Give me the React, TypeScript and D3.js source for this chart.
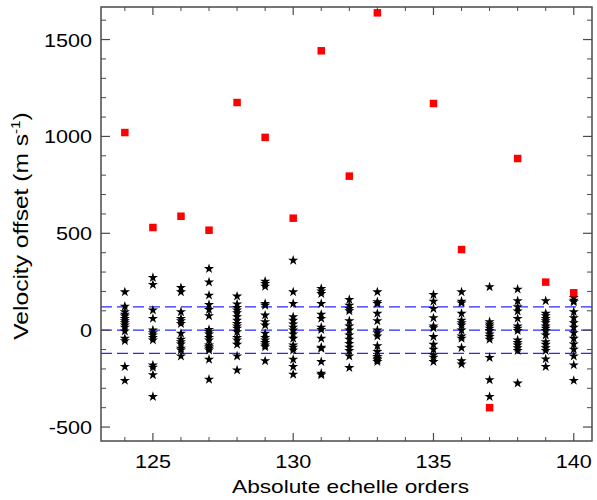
import React from "react";
import * as d3 from "d3";

const orders = [124, 125, 126, 127, 128, 129, 130, 131, 132, 133, 135, 136, 137, 138, 139, 140];

const starValues: number[][] = [
  [197, 123, 94, 82, 72, 60, 48, 38, 26, 14, -5, -43, -55, -188, -260],
  [271, 235, 103, 60, 0, -14, -26, -38, -51, -180, -192, -231, -343],
  [219, 197, 94, 60, 48, 34, -17, -48, -60, -72, -94, -103, -134],
  [317, 248, 180, 132, 106, 74, 3, -9, -21, -38, -51, -77, -86, -94, -103, -151, -254],
  [175, 134, 116, 103, 89, 69, 51, 34, 21, 9, -9, -38, -51, -74, -134, -206],
  [252, 240, 226, 137, 128, 77, 43, 26, -17, -38, -51, -65, -77, -86, -159],
  [360, 197, 137, 69, 51, 31, 14, 0, -21, -43, -77, -89, -103, -151, -188, -228],
  [214, 202, 188, 137, 81, 60, 14, 3, -43, -89, -94, -163, -223, -231],
  [158, 128, 111, 99, 48, 21, 0, -26, -48, -69, -89, -106, -134, -194],
  [197, 146, 137, 86, 48, 0, -14, -31, -81, -111, -137, -146, -154, -163],
  [183, 149, 111, 63, 21, 12, -34, -74, -99, -128, -140, -163],
  [197, 149, 140, 86, 51, 38, 26, 0, -31, -43, -91, -159, -175],
  [223, 43, 31, 21, 9, -3, -21, -34, -48, -142, -257, -343],
  [211, 151, 120, 98, 60, 21, 9, -3, -51, -65, -77, -91, -106, -274],
  [151, 86, 74, 60, 48, 38, 21, 9, -3, -26, -60, -74, -91, -106, -149, -188],
  [168, 154, 146, 94, 63, 38, 14, -14, -43, -72, -99, -134, -180, -260],
];

const squareValues = [1020, 530, 588, 516, 1175, 995, 578, 1442, 795, 1638, 1170, 416, -400, 886, 248, 193];

const refLines = [120, 0, -120];

const xMajorTicks = [125, 130, 135, 140];
const yMajorTicks = [-500, 0, 500, 1000, 1500];

const X_DOMAIN: [number, number] = [123.15, 140.65];
const Y_DOMAIN: [number, number] = [-572, 1668];

export default function App() {
  const W = 597, H = 500;
  const L = 101, R = 592, T = 7, B = 441;
  const x = d3.scaleLinear().domain(X_DOMAIN).range([L, R]);
  const y = d3.scaleLinear().domain(Y_DOMAIN).range([B, T]);

  const xMinor = d3.range(124, 141, 1).filter((v) => !xMajorTicks.includes(v));
  const yMinor = d3.range(-500, 1601, 100).filter((v) => !yMajorTicks.includes(v));

  const star = d3.symbol().type(d3.symbolStar).size(32)()!;
  const axisColor = "#4a4a4a";
  const font = "Liberation Sans, Arial, Helvetica, sans-serif";
  const sx = 1.2;

  const stars: { o: number; v: number }[] = [];
  orders.forEach((o, i) => starValues[i].forEach((v) => stars.push({ o, v })));

  return (
    <svg width={W} height={H} style={{ position: "absolute", left: 0, top: 0 }}>
      <rect x={0} y={0} width={W} height={H} fill="#fff" />
      {refLines.map((v) => (
        <line key={v} x1={L} x2={R} y1={y(v)} y2={y(v)} stroke="#2a2aff" strokeWidth={1.3} strokeDasharray="11,5" />
      ))}
      {stars.map((s, i) => (
        <path key={i} d={star} transform={`translate(${x(s.o)},${y(s.v)})`} fill="#000" />
      ))}
      {orders.map((o, i) => (
        <rect key={o} x={x(o) - 3.75} y={y(squareValues[i]) - 3.75} width={7.5} height={7.5} fill="#ff0000" />
      ))}
      <rect x={L} y={T} width={R - L} height={B - T} fill="none" stroke={axisColor} strokeWidth={1.5} />
      {xMajorTicks.map((v) => (
        <g key={"xm" + v}>
          <line x1={x(v)} x2={x(v)} y1={B} y2={B - 8} stroke={axisColor} strokeWidth={1.2} />
          <line x1={x(v)} x2={x(v)} y1={T} y2={T + 8} stroke={axisColor} strokeWidth={1.2} />
          <text transform={`translate(${x(v)},467.5) scale(${sx},1)`} textAnchor="middle" fontFamily={font} fontSize={18} fill="#000">{v}</text>
        </g>
      ))}
      {xMinor.map((v) => (
        <g key={"xn" + v}>
          <line x1={x(v)} x2={x(v)} y1={B} y2={B - 4} stroke={axisColor} strokeWidth={1} />
          <line x1={x(v)} x2={x(v)} y1={T} y2={T + 4} stroke={axisColor} strokeWidth={1} />
        </g>
      ))}
      {yMajorTicks.map((v) => (
        <g key={"ym" + v}>
          <line x1={L} x2={L + 9} y1={y(v)} y2={y(v)} stroke={axisColor} strokeWidth={1.2} />
          <line x1={R} x2={R - 9} y1={y(v)} y2={y(v)} stroke={axisColor} strokeWidth={1.2} />
          <text transform={`translate(92,${y(v) + 7}) scale(${sx},1)`} textAnchor="end" fontFamily={font} fontSize={18} fill="#000">{v}</text>
        </g>
      ))}
      {yMinor.map((v) => (
        <g key={"yn" + v}>
          <line x1={L} x2={L + 5} y1={y(v)} y2={y(v)} stroke={axisColor} strokeWidth={1} />
          <line x1={R} x2={R - 5} y1={y(v)} y2={y(v)} stroke={axisColor} strokeWidth={1} />
        </g>
      ))}
      <text transform={`translate(${(L + R) / 2 + 4},492.5) scale(1.26,1)`} textAnchor="middle" fontFamily={font} fontSize={18} fill="#000">
        Absolute echelle orders
      </text>
      <text
        transform={`translate(28,${(T + B) / 2 + 2}) rotate(-90) scale(1.17,1)`}
        textAnchor="middle"
        fontFamily={font}
        fontSize={21}
        fill="#000"
      >
        Velocity offset (m s<tspan fontSize={13} dy={-8}>-1</tspan><tspan dy={8}>)</tspan>
      </text>
    </svg>
  );
}
